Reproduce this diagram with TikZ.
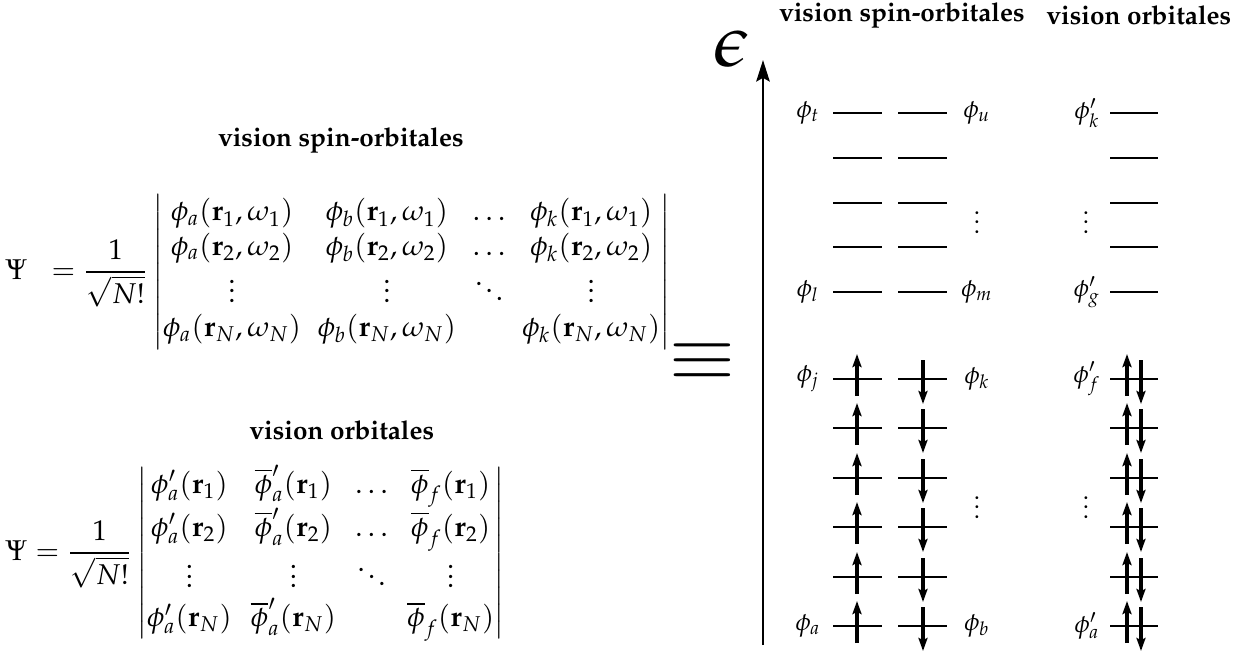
\documentclass[12pt,tikz,border=0pt]{standalone}
\usepackage[T1]{fontenc}
\usepackage{mathpazo}
\usepackage{amsmath,amssymb}
\usetikzlibrary{arrows.meta,positioning}
\tikzset{
  heading/.style={font=\small\bfseries, inner sep=0pt},
  level/.style={line width=0.85pt},
  spinup/.style={line width=1.4pt, -{Stealth[length=5.5pt,width=3.8pt,inset=1pt]}},
  spindown/.style={spinup},
  energy/.style={line width=1.2pt, -{Stealth[length=9pt,width=5.6pt,inset=1.5pt]}},
  orblbl/.style={font=\fontsize{10.5}{12}\selectfont, inner sep=0pt},
  bigsym/.style={font=\fontsize{31}{33}\selectfont, inner sep=0pt},
  det/.style={anchor=west, inner sep=0pt, execute at begin node={\setlength{\arraycolsep}{#1}}},
  det/.default=4pt
}

\begin{document}
\begin{tikzpicture}[x=0.42pt,y=-0.42pt]
  \useasboundingbox (0,0) rectangle (1238,651);
  % determinants
  \node[det=3.5pt] (eqspin) at (5,272) {$\Psi\;\;=\dfrac{1}{\sqrt{N!}}
    \begin{vmatrix}
      \phi_a(\mathbf{r}_1,\omega_1) & \phi_b(\mathbf{r}_1,\omega_1) & \ldots & \phi_k(\mathbf{r}_1,\omega_1)\\
      \phi_a(\mathbf{r}_2,\omega_2) & \phi_b(\mathbf{r}_2,\omega_2) & \ldots & \phi_k(\mathbf{r}_2,\omega_2)\\
      \vdots & \vdots & \ddots & \vdots\\
      \phi_a(\mathbf{r}_N,\omega_N) & \phi_b(\mathbf{r}_N,\omega_N) & & \phi_k(\mathbf{r}_N,\omega_N)
    \end{vmatrix}$};
  \node[det] (eqorb) at (5,553) {$\Psi=\dfrac{1}{\sqrt{N!}}
    \begin{vmatrix}
      \phi'_a(\mathbf{r}_1) & \overline{\phi}'_a(\mathbf{r}_1) & \ldots & \overline{\phi}_f(\mathbf{r}_1)\\
      \phi'_a(\mathbf{r}_2) & \overline{\phi}'_a(\mathbf{r}_2) & \ldots & \overline{\phi}_f(\mathbf{r}_2)\\
      \vdots & \vdots & \ddots & \vdots\\
      \phi'_a(\mathbf{r}_N) & \overline{\phi}'_a(\mathbf{r}_N) & & \overline{\phi}_f(\mathbf{r}_N)
    \end{vmatrix}$};
  \node[heading] (hspin) at (341,140) {vision spin-orbitales};
  \node[heading] (horb) at (342,430) {vision orbitales};
  \node[bigsym,xscale=1.1] (equiv) at (702,362) {$\equiv$};

  % energy axis
  \coordinate (axbot) at (763,645);
  \coordinate (axtop) at (763,60);
  \draw[energy] (axbot) -- (axtop);
  \node[bigsym] (eps) at (732,49) {$\epsilon$};
  \node[heading] (hspinr) at (902,15) {vision spin-orbitales};
  \node[heading] (horbr) at (1139,15) {vision orbitales};

  % empty levels
  \foreach \y in {113,158,203,247,292}{
    \draw[level] (833,\y) -- (882,\y);
    \draw[level] (898,\y) -- (947,\y);
    \draw[level] (1110,\y) -- (1158,\y);
  }
  % occupied levels
  \foreach \y in {379,428,478,527,577,626}{
    \draw[level] (833,\y) -- (882,\y);
    \draw[level] (898,\y) -- (947,\y);
    \draw[level] (1110,\y) -- (1158,\y);
    \draw[spinup] (857,\y+17) -- (857,\y-25);
    \draw[spindown] (923,\y-19) -- (923,\y+25);
    \draw[spinup] (1127,\y+17) -- (1127,\y-25);
    \draw[spindown] (1141,\y-19) -- (1141,\y+25);
  }

  % labels
  \node[orblbl] (lt) at (808,113) {$\phi_t$};
  \node[orblbl] (lu) at (977,113) {$\phi_u$};
  \node[orblbl] (lkp) at (1087,113) {$\phi'_k$};
  \node[orblbl] (ll) at (808,292) {$\phi_l$};
  \node[orblbl] (lm) at (977,292) {$\phi_m$};
  \node[orblbl] (lgp) at (1087,292) {$\phi'_g$};
  \node[orblbl] (lj) at (808,379) {$\phi_j$};
  \node[orblbl] (lk) at (977,379) {$\phi_k$};
  \node[orblbl] (lfp) at (1087,379) {$\phi'_f$};
  \node[orblbl] (la) at (808,626) {$\phi_a$};
  \node[orblbl] (lb) at (977,626) {$\phi_b$};
  \node[orblbl] (lap) at (1087,626) {$\phi'_a$};
  \node[orblbl] (vd1) at (977,215) {$\vdots$};
  \node[orblbl] (vd2) at (1086,215) {$\vdots$};
  \node[orblbl] (vd3) at (977,500) {$\vdots$};
  \node[orblbl] (vd4) at (1086,500) {$\vdots$};
\end{tikzpicture}
\end{document}
